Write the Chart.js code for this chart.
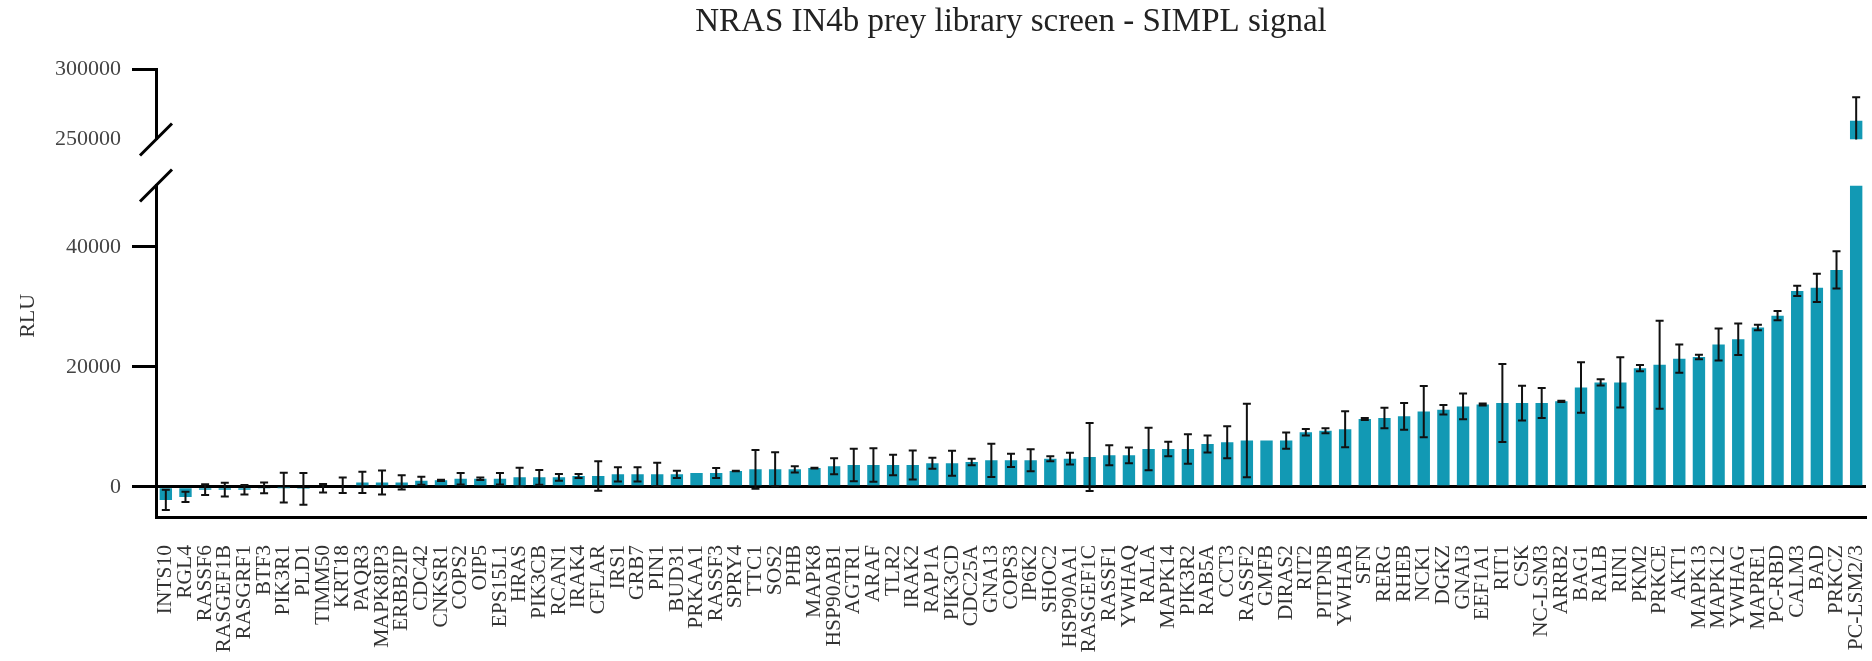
<!DOCTYPE html>
<html>
<head>
<meta charset="utf-8">
<title>NRAS IN4b prey library screen - SIMPL signal</title>
<script src="https://cdn.jsdelivr.net/npm/chart.js@4/dist/chart.umd.min.js"></script>
<style>
  html, body { margin: 0; padding: 0; background: #fff; }
</style>
</head>
<body>
<canvas id="chart" width="1872" height="661"></canvas>
<script>
// DATA (mean RLU and SD per prey)

var PREYS = [
  'INTS10', 'RGL4', 'RASSF6', 'RASGEF1B', 'RASGRF1', 'BTF3', 'PIK3R1', 'PLD1', 'TIMM50', 'KRT18',
  'PAQR3', 'MAPK8IP3', 'ERBB2IP', 'CDC42', 'CNKSR1', 'COPS2', 'OIP5', 'EPS15L1', 'HRAS', 'PIK3CB',
  'RCAN1', 'IRAK4', 'CFLAR', 'IRS1', 'GRB7', 'PIN1', 'BUD31', 'PRKAA1', 'RASSF3', 'SPRY4',
  'TTC1', 'SOS2', 'PHB', 'MAPK8', 'HSP90AB1', 'AGTR1', 'ARAF', 'TLR2', 'IRAK2', 'RAP1A',
  'PIK3CD', 'CDC25A', 'GNA13', 'COPS3', 'IP6K2', 'SHOC2', 'HSP90AA1', 'RASGEF1C', 'RASSF1', 'YWHAQ',
  'RALA', 'MAPK14', 'PIK3R2', 'RAB5A', 'CCT3', 'RASSF2', 'GMFB', 'DIRAS2', 'RIT2', 'PITPNB',
  'YWHAB', 'SFN', 'RERG', 'RHEB', 'NCK1', 'DGKZ', 'GNAI3', 'EEF1A1', 'RIT1', 'CSK',
  'NC-LSM3', 'ARRB2', 'BAG1', 'RALB', 'RIN1', 'PKM2', 'PRKCE', 'AKT1', 'MAPK13', 'MAPK12',
  'YWHAG', 'MAPRE1', 'PC-RBD', 'CALM3', 'BAD', 'PRKCZ', 'PC-LSM2/3'
];

var RLU = [
  -2200, -1700, -500, -500, -500, -200, -150, -350, -250, 250,
  720, 720, 720, 1000, 1060, 1340, 1340, 1340, 1560, 1560,
  1560, 1780, 1780, 2060, 2060, 2060, 2060, 2280, 2280, 2620,
  2900, 2900, 2900, 3120, 3400, 3620, 3620, 3620, 3620, 3900,
  3900, 4120, 4400, 4400, 4400, 4680, 4680, 4960, 5240, 5240,
  6290, 6290, 6290, 7130, 7410, 7690, 7690, 7690, 9100, 9320,
  9600, 11300, 11470, 11750, 12540, 12830, 13390, 13730, 13960, 13960,
  13960, 14240, 16550, 17400, 17400, 19780, 20340, 21360, 21640, 23730,
  24580, 26560, 28530, 32660, 33170, 36160, 263400
];

var RLU_SD = [
  1700, 850, 900, 1150, 800, 900, 2500, 2650, 700, 1300,
  1780, 2000, 1200, 670, 110, 950, 200, 950, 1600, 1230,
  560, 330, 2450, 1200, 1200, 1950, 600, 0, 840, 60,
  3230, 2840, 530, 60, 1340, 2700, 2800, 1700, 2420, 920,
  2090, 530, 2760, 1110, 1840, 420, 975, 5680, 1670, 1310,
  3540, 1225, 2450, 1420, 2670, 6130, 0, 1340, 540, 420,
  3000, 170, 1720, 2230, 4270, 790, 2150, 170, 6500, 2900,
  2510, 110, 4210, 510, 4180, 510, 7350, 2370, 370, 2680,
  2630, 450, 760, 850, 2370, 3110, 16900
];

var LOW_TICKS = [0, 20000, 40000];
var HIGH_TICKS = [250000, 300000];

var TITLE = 'NRAS IN4b prey library screen - SIMPL signal';
var Y_TITLE = 'RLU';

// broken y axis: two ranges
var LOW_MIN = -5050;
var LOW_MAX = 50250;
var HIGH_MIN = 250000;
var HIGH_MAX = 300000;

var BAR_COLOR = 'rgb(18, 153, 180)';
var SERIF = '"Liberation Serif", "DejaVu Serif", serif';

// PLUGINS

var errorBars = {
  id: 'errorBars',
  afterDatasetsDraw: function (chart) {
    var ctx = chart.ctx;
    var xs = chart.scales.x;
    ctx.save();
    ctx.strokeStyle = '#111';
    ctx.lineWidth = 2;
    RLU.forEach(function (v, i) {
      var sd = RLU_SD[i];
      if (!sd) { return; }
      var s = v > LOW_MAX ? chart.scales.yHigh : chart.scales.yLow;
      var px = xs.getPixelForValue(i);
      var hi = v + sd, lo = v - sd;
      var yHi = s.getPixelForValue(Math.min(hi, s.max));
      var yLo = s.getPixelForValue(Math.max(lo, s.min));
      ctx.beginPath();
      ctx.moveTo(px, yHi);
      ctx.lineTo(px, yLo);
      if (hi <= s.max) { ctx.moveTo(px - 4, yHi); ctx.lineTo(px + 4, yHi); }
      if (lo >= s.min) { ctx.moveTo(px - 4, yLo); ctx.lineTo(px + 4, yLo); }
      ctx.stroke();
    });
    ctx.restore();
  }
};

var axisBreak = {
  id: 'axisBreak',
  afterDraw: function (chart) {
    var ctx = chart.ctx;
    var x = chart.chartArea.left;
    var lo = chart.scales.yLow;
    ctx.save();
    ctx.strokeStyle = '#000';
    ctx.lineWidth = 3;
    [chart.scales.yHigh.bottom, lo.top].forEach(function (y) {
      ctx.beginPath();
      ctx.moveTo(x - 16, y + 16);
      ctx.lineTo(x + 16, y - 16);
      ctx.stroke();
    });

    // y axis title, shared by both parts
    ctx.translate(28, lo.getPixelForValue(28500));
    ctx.rotate(-Math.PI / 2);
    ctx.fillStyle = '#333';
    ctx.font = '22px ' + SERIF;
    ctx.textAlign = 'center';
    ctx.textBaseline = 'middle';
    ctx.fillText(Y_TITLE, 0, 0);
    ctx.restore();
  }
};

// CHART

function onlyTicks(list) {
  return function (scale) {
    scale.ticks = list.map(function (v) { return { value: v }; });
  };
}

function plainNumber(v) { return String(v); }

new Chart(document.getElementById('chart'), {
  type: 'bar',
  data: {
    labels: PREYS,
    datasets: [{
      yAxisID: 'yLow',
      data: RLU.map(function (v) { return Math.min(v, LOW_MAX); }),
      backgroundColor: BAR_COLOR,
      barPercentage: 0.63,
      categoryPercentage: 1,
      grouped: false
    }, {
      yAxisID: 'yHigh',
      data: RLU.map(function (v) { return v > LOW_MAX ? [HIGH_MIN, v] : null; }),
      backgroundColor: BAR_COLOR,
      barPercentage: 0.63,
      categoryPercentage: 1,
      grouped: false
    }]
  },
  options: {
    responsive: false,
    animation: false,
    layout: { padding: { left: 0, right: 6, top: 0, bottom: 0 } },
    plugins: {
      legend: { display: false },
      tooltip: { enabled: false },
      title: {
        display: true,
        text: TITLE,
        fullSize: false,
        color: '#222',
        font: { family: SERIF, size: 33, weight: 'normal' },
        padding: { top: 3, bottom: 27 }
      }
    },
    scales: {
      x: {
        grid: { display: false, drawTicks: false },
        border: { display: true, color: '#000', width: 3 },
        ticks: {
          autoSkip: false,
          minRotation: 90,
          maxRotation: 90,
          padding: 28,
          color: '#333',
          font: { family: SERIF, size: 21.5 }
        },
        afterFit: function (s) {
          s.height = 144;
          // rotated labels would otherwise reserve room at the sides
          s.paddingLeft = 0;
          s.paddingRight = 0;
        }
      },
      yHigh: {
        type: 'linear',
        position: 'left',
        stack: 'rlu',
        stackWeight: 70,
        weight: 3,
        min: HIGH_MIN,
        max: HIGH_MAX,
        afterBuildTicks: onlyTicks(HIGH_TICKS),
        grid: {
          drawOnChartArea: false,
          tickLength: 24,
          tickWidth: 3,
          tickColor: function (c) { return c.tick && c.tick.value === HIGH_MAX ? '#000' : 'rgba(0,0,0,0)'; }
        },
        border: { color: '#000', width: 3 },
        ticks: { padding: 11, color: '#444', font: { family: SERIF, size: 22 }, callback: plainNumber },
        afterFit: function (s) { s.width = 156; }
      },
      gap: {
        type: 'linear',
        position: 'left',
        stack: 'rlu',
        stackWeight: 46,
        weight: 2,
        display: false
      },
      yLow: {
        type: 'linear',
        position: 'left',
        stack: 'rlu',
        stackWeight: 332,
        weight: 1,
        min: LOW_MIN,
        max: LOW_MAX,
        afterBuildTicks: onlyTicks(LOW_TICKS),
        grid: {
          color: function (c) { return c.tick && c.tick.value === 0 ? '#000' : 'rgba(0,0,0,0)'; },
          lineWidth: 3,
          tickLength: 24,
          tickWidth: 3,
          tickColor: '#000'
        },
        border: { color: '#000', width: 3 },
        ticks: { padding: 11, color: '#444', font: { family: SERIF, size: 22 }, callback: plainNumber },
        afterFit: function (s) { s.width = 156; }
      }
    }
  },
  plugins: [errorBars, axisBreak]
});
</script>
</body>
</html>
